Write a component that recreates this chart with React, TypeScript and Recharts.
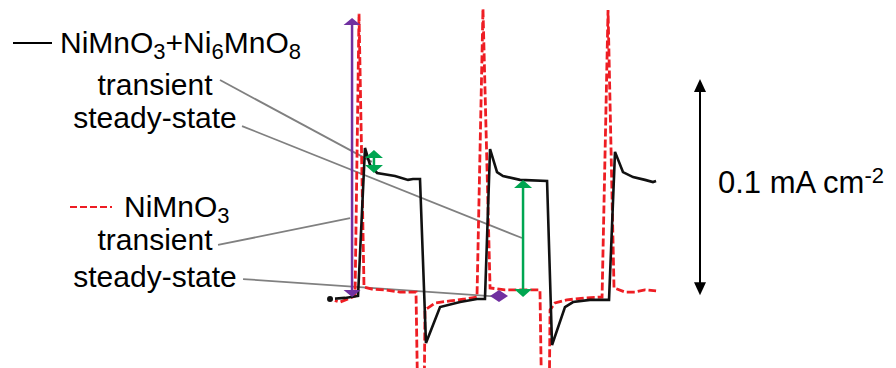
import React from 'react';
import { LineChart, Line, XAxis, YAxis, ReferenceLine } from 'recharts';

// time (s) and photocurrent (µA cm^-2)
const compositeTime = [26.52, 27.72, 28.77, 29.33, 29.73, 30.30, 31.74, 32.79, 33.19, 33.75, 34.23, 35.36, 36.97, 38.33, 38.97, 39.38, 39.94, 40.42, 41.79, 43.96, 44.36, 45.40, 46.05, 47.41, 48.94, 49.42, 50.06, 50.87, 51.83, 52.47, 52.72];
const compositeCurrent = [-1.4, -0.9, 0, 68.2, 60.4, 56.7, 55.3, 53.5, 53.9, 53.9, -21.7, -5.1, -2.8, -1.4, -1.4, 67.7, 57.1, 55.3, 53.5, 53.0, -22.6, -5.1, -2.8, -1.8, -1.8, 66.4, 57.1, 54.8, 53.5, 52.5, 53.0];

const nimnoTime = [26.52, 27.32, 27.97, 28.53, 28.85, 29.25, 29.89, 30.94, 32.14, 33.43, 33.59, 34.07, 34.15, 34.96, 36.16, 37.37, 38.33, 38.81, 39.38, 40.58, 41.79, 43.39, 43.55, 44.12, 44.20, 44.60, 45.56, 47.01, 48.38, 48.86, 49.34, 50.23, 51.03, 51.83, 52.72];
const nimnoCurrent = [-1.4, -2.8, -1.4, 0, 130.0, 4.1, 3.2, 2.8, 1.8, 1.8, -57, -57, -6.5, -3.2, -2.3, -1.4, -0.5, 132.3, 3.7, 2.8, 2.8, 2.8, -57, -57, -6.5, -3.2, -1.8, -0.9, -0.5, 131.8, 3.7, 1.8, 1.8, 2.8, 2.3];

const timeDomain = [0, 72];
const currentDomain = [-33.2, 136.4];

// annotation leader lines: [t1, v1, t2, v2]
const leaders = [
  [17.68, 99.5, 29.89, 61.8],
  [19.45, 78.3, 41.95, 26.7],
  [17.52, 23.5, 28.13, 35.9],
  [19.53, 7.8, 40.58, -0.5],
];
// arrows: [t, vTop, vBottom]
const purpleArrow = [28.29, 128.1, -0.5];
const purpleDiamond = [40.1, 2.8, -2.8];
const greenSmall = [30.05, 67.3, 56.7];
const greenBig = [42.03, 53.5, -0.5];
const scaleArrow = [56.25, 100.0, 0.3];

const toRows = (ts: number[], vs: number[]) => ts.map((t, i) => ({ t, v: vs[i] }));
const compositeData = toRows(compositeTime, compositeCurrent);
const nimnoData = toRows(nimnoTime, nimnoCurrent);

const arrowShape = (color: string, hw: number, hl: number, sw: number) => (p: any) => {
  const { x1, y1, x2, y2 } = p;
  if (x1 == null || y1 == null) return <g />;
  const dx = x2 - x1, dy = y2 - y1;
  const len = Math.hypot(dx, dy) || 1;
  const ux = dx / len, uy = dy / len;
  const nx = -uy, ny = ux;
  const head = (tx: number, ty: number, dirx: number, diry: number) => {
    const bx = tx - dirx * hl, by = ty - diry * hl;
    return `${tx},${ty} ${bx + nx * hw / 2},${by + ny * hw / 2} ${bx - nx * hw / 2},${by - ny * hw / 2}`;
  };
  const sx1 = x1 + ux * hl * 0.8, sy1 = y1 + uy * hl * 0.8;
  const sx2 = x2 - ux * hl * 0.8, sy2 = y2 - uy * hl * 0.8;
  return (
    <g>
      {len > 2 * hl ? <line x1={sx1} y1={sy1} x2={sx2} y2={sy2} stroke={color} strokeWidth={sw} /> : null}
      <polygon points={head(x2, y2, ux, uy)} fill={color} />
      <polygon points={head(x1, y1, -ux, -uy)} fill={color} />
    </g>
  );
};

const FONT = 'Arimo, "Liberation Sans", Arial, Helvetica, sans-serif';

export default function App() {
  return (
    <div style={{ position: 'absolute', left: 0, top: 0, width: 896, height: 368, background: '#fff' }}>
      <LineChart width={896} height={368} margin={{ top: 0, right: 0, bottom: 0, left: 0 }}>
        <XAxis hide type="number" dataKey="t" domain={timeDomain} allowDataOverflow />
        <YAxis hide type="number" domain={currentDomain} allowDataOverflow />
        {leaders.map((s, i) => (
          <ReferenceLine key={'l' + i} segment={[{ x: s[0], y: s[1] }, { x: s[2], y: s[3] }]} stroke="#808080" strokeWidth={1.8} ifOverflow="visible" />
        ))}
        <Line data={nimnoData} dataKey="v" type="linear" stroke="#ee1d23" strokeWidth={2.8} strokeDasharray="8 3" dot={false} isAnimationActive={false} />
        <Line data={compositeData} dataKey="v" type="linear" stroke="#111" strokeWidth={2.6} dot={false} isAnimationActive={false} />
        <ReferenceLine segment={[{ x: purpleArrow[0], y: purpleArrow[1] }, { x: purpleArrow[0], y: purpleArrow[2] }]} ifOverflow="visible" shape={arrowShape('#7030a0', 17, 7, 2.5)} />
        <ReferenceLine segment={[{ x: purpleDiamond[0], y: purpleDiamond[1] }, { x: purpleDiamond[0], y: purpleDiamond[2] }]} ifOverflow="visible" shape={arrowShape('#7030a0', 18, 6, 2.5)} />
        <ReferenceLine segment={[{ x: greenSmall[0], y: greenSmall[1] }, { x: greenSmall[0], y: greenSmall[2] }]} ifOverflow="visible" shape={arrowShape('#00a651', 18, 8, 2.5)} />
        <ReferenceLine segment={[{ x: greenBig[0], y: greenBig[1] }, { x: greenBig[0], y: greenBig[2] }]} ifOverflow="visible" shape={arrowShape('#00a651', 18, 8, 2.5)} />
        <ReferenceLine segment={[{ x: scaleArrow[0], y: scaleArrow[1] }, { x: scaleArrow[0], y: scaleArrow[2] }]} ifOverflow="visible" shape={arrowShape('#000', 12, 13, 2)} />
      </LineChart>
      <svg width={896} height={368} style={{ position: 'absolute', left: 0, top: 0, pointerEvents: 'none' }} fontFamily={FONT} fill="#000">
        <line x1={13} y1={43} x2={52} y2={43} stroke="#000" strokeWidth={2} />
        <text x={60} y={53} fontSize={30}>
          NiMnO<tspan fontSize={22} dy={6}>3</tspan><tspan dy={-6}>+Ni</tspan><tspan fontSize={22} dy={6}>6</tspan><tspan dy={-6}>MnO</tspan><tspan fontSize={22} dy={6}>8</tspan>
        </text>
        <text x={155} y={95} fontSize={30} textAnchor="middle">transient</text>
        <text x={155} y={128} fontSize={30} textAnchor="middle">steady-state</text>
        <line x1={70} y1={207} x2={112} y2={207} stroke="#ee1d23" strokeWidth={2} strokeDasharray="7 3" />
        <text x={124} y={217} fontSize={30}>
          NiMnO<tspan fontSize={22} dy={6}>3</tspan>
        </text>
        <text x={155} y={250} fontSize={30} textAnchor="middle">transient</text>
        <text x={155} y={287} fontSize={30} textAnchor="middle">steady-state</text>
        <text x={718} y={193} fontSize={31}>
          0.1 mA cm<tspan fontSize={22} dy={-10}>-2</tspan>
        </text>
      </svg>
    </div>
  );
}
